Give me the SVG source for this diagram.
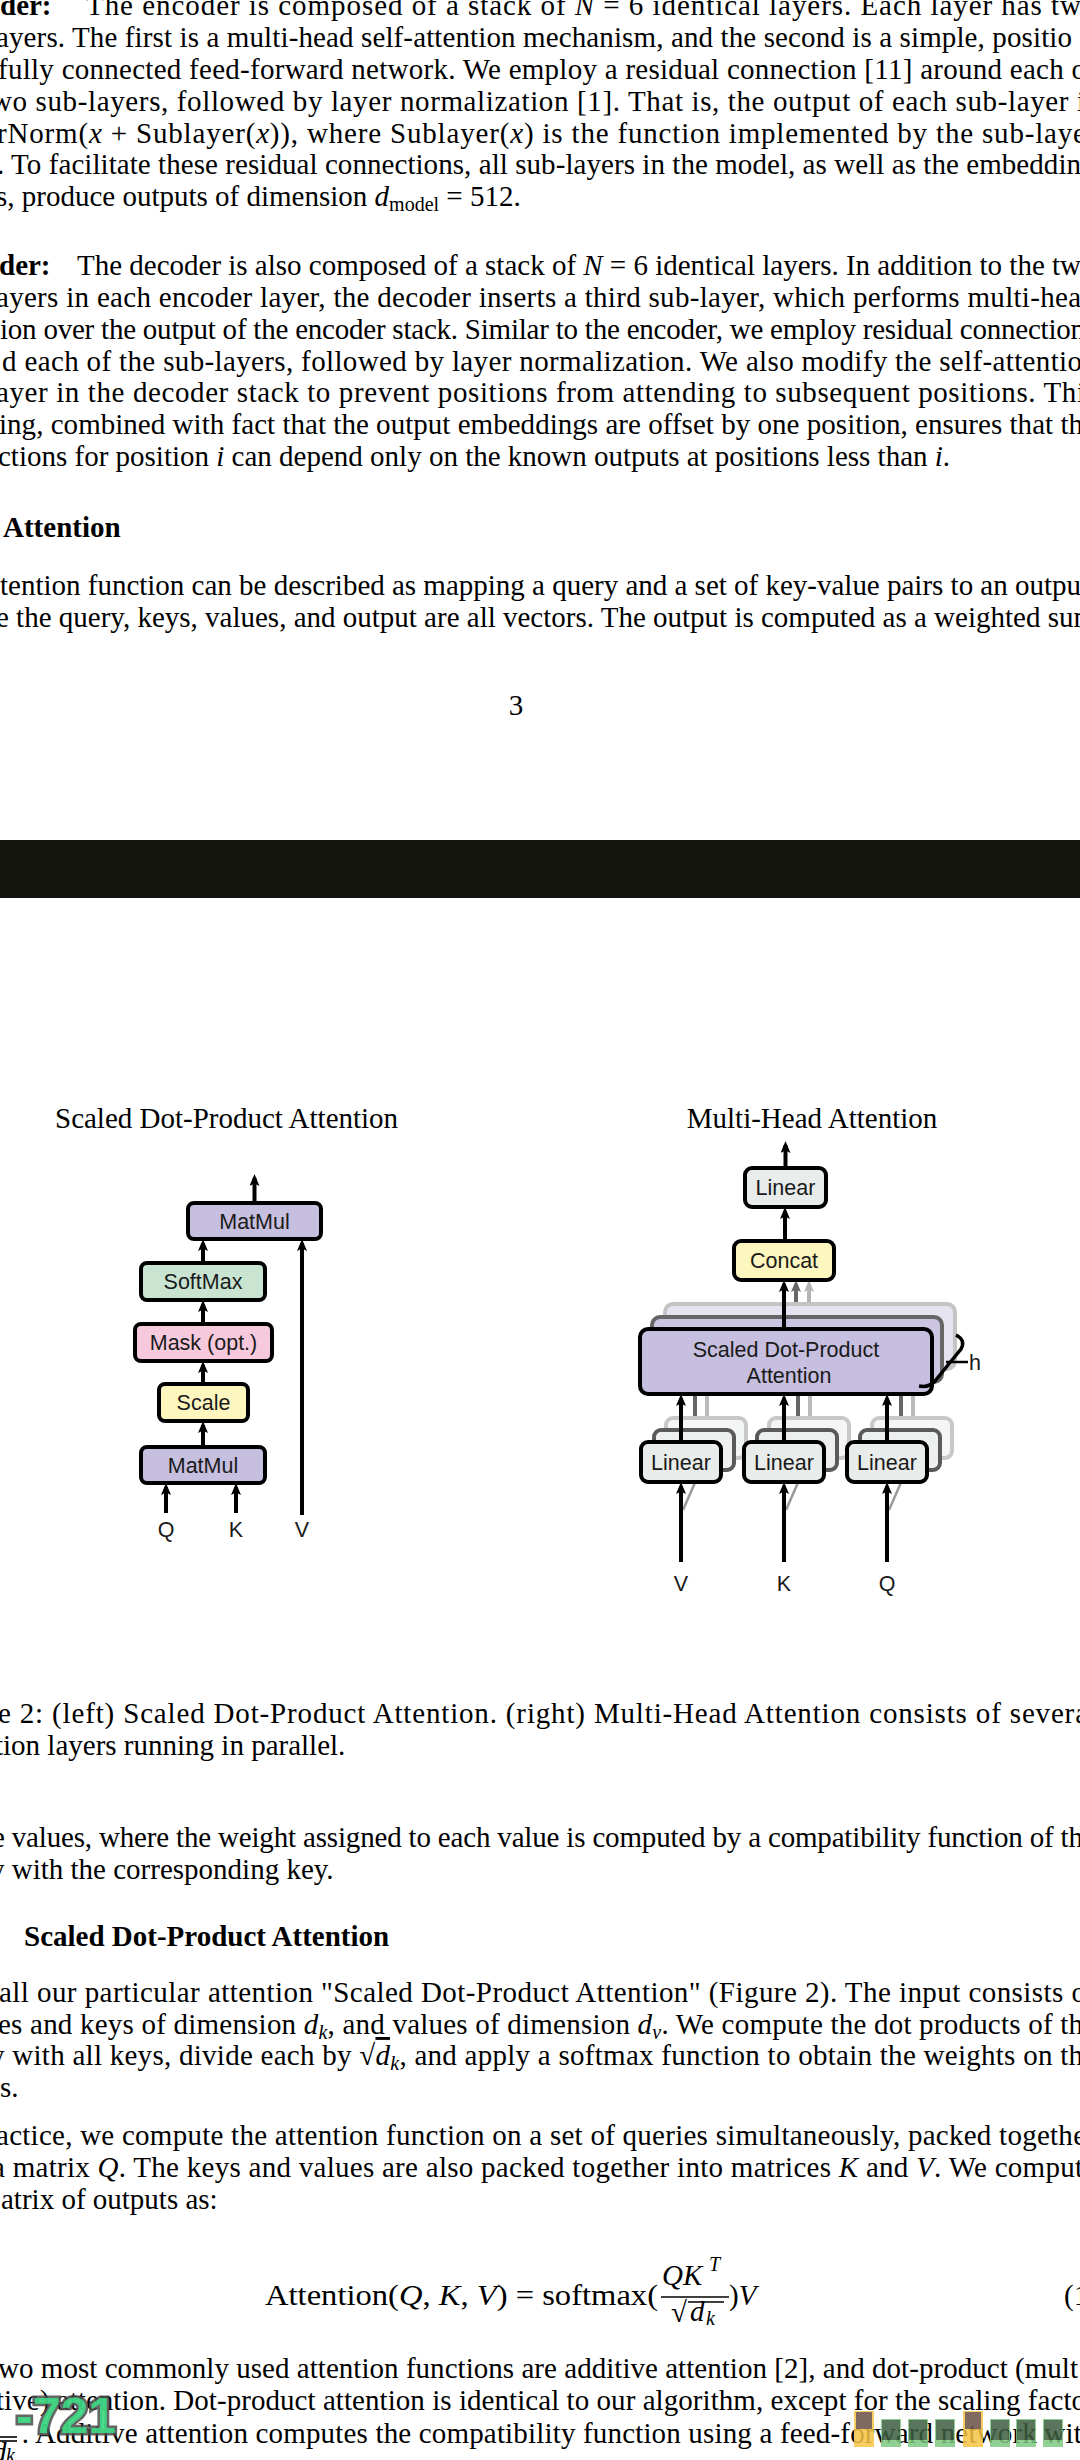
<svg xmlns="http://www.w3.org/2000/svg" width="1080" height="2460" viewBox="0 0 1080 2460">
<style>
.t{font-family:"Liberation Serif","Times New Roman",serif;font-size:29px;fill:#000}
.b{font-weight:bold}
.i{font-style:italic}
.sb{font-size:20px}
.s{font-family:"Liberation Sans",Arial,sans-serif;font-size:21.5px;fill:#1a1a1a;text-anchor:middle}
.bx{stroke:#000;stroke-width:4}
.ar{stroke:#000;stroke-width:4;fill:none;marker-end:url(#ah)}
.ar2{stroke:#666;stroke-width:4;fill:none;marker-end:url(#ah2)}
.ar3{stroke:#b4b4b4;stroke-width:4;fill:none;marker-end:url(#ah3)}
.pur{fill:#c6bfdf}
.lin{fill:#e8ecea}
.yel{fill:#fdf7bf}
</style>
<defs>
<marker id="ah" viewBox="0 0 12 10" markerWidth="12" markerHeight="10" refX="8" refY="5" orient="auto" markerUnits="userSpaceOnUse"><path d="M0,0 L12,5 L0,10 L2.5,5 Z" fill="#000"/></marker>
<marker id="ah2" viewBox="0 0 12 10" markerWidth="12" markerHeight="10" refX="8" refY="5" orient="auto" markerUnits="userSpaceOnUse"><path d="M0,0 L12,5 L0,10 L2.5,5 Z" fill="#666"/></marker>
<marker id="ah3" viewBox="0 0 12 10" markerWidth="12" markerHeight="10" refX="8" refY="5" orient="auto" markerUnits="userSpaceOnUse"><path d="M0,0 L12,5 L0,10 L2.5,5 Z" fill="#b4b4b4"/></marker>
</defs>
<rect x="0" y="0" width="1080" height="2460" fill="#fff"/>

<g id="text-top">
<text class="t b" x="0" y="15">der:</text>
<text class="t" x="86" y="15" textLength="995" lengthAdjust="spacing">The encoder is composed of a stack of <tspan class="i">N</tspan> = 6 identical layers. Each layer has tw</text>
<text class="t" x="-4" y="47" textLength="1076" lengthAdjust="spacing">ayers. The first is a multi-head self-attention mechanism, and the second is a simple, positio</text>
<text class="t" x="-2" y="79" textLength="1088" lengthAdjust="spacing">fully connected feed-forward network. We employ a residual connection [11] around each o</text>
<text class="t" x="-9" y="110.5" textLength="1094" lengthAdjust="spacing">wo sub-layers, followed by layer normalization [1]. That is, the output of each sub-layer i</text>
<text class="t" x="-3" y="142.5" textLength="1089" lengthAdjust="spacing">rNorm(<tspan class="i">x</tspan> + Sublayer(<tspan class="i">x</tspan>)), where Sublayer(<tspan class="i">x</tspan>) is the function implemented by the sub-laye</text>
<text class="t" x="-3" y="174" textLength="1084" lengthAdjust="spacing">. To facilitate these residual connections, all sub-layers in the model, as well as the embeddin</text>
<text class="t" x="-4" y="206">s, produce outputs of dimension <tspan class="i">d</tspan><tspan class="sb" dy="5">model</tspan><tspan dy="-5"> = 512.</tspan></text>

<text class="t b" x="-1" y="275">der:</text>
<text class="t" x="77" y="275" textLength="1004" lengthAdjust="spacing">The decoder is also composed of a stack of <tspan class="i">N</tspan> = 6 identical layers. In addition to the tw</text>
<text class="t" x="-4" y="307" textLength="1085" lengthAdjust="spacing">ayers in each encoder layer, the decoder inserts a third sub-layer, which performs multi-hea</text>
<text class="t" x="0" y="338.5" textLength="1085" lengthAdjust="spacing">ion over the output of the encoder stack. Similar to the encoder, we employ residual connection</text>
<text class="t" x="2" y="370.5" textLength="1080" lengthAdjust="spacing">d each of the sub-layers, followed by layer normalization. We also modify the self-attentio</text>
<text class="t" x="-4" y="402" textLength="1089" lengthAdjust="spacing">ayer in the decoder stack to prevent positions from attending to subsequent positions. Thi</text>
<text class="t" x="-1" y="434" textLength="1084" lengthAdjust="spacing">ing, combined with fact that the output embeddings are offset by one position, ensures that th</text>
<text class="t" x="-2" y="466">ctions for position <tspan class="i">i</tspan> can depend only on the known outputs at positions less than <tspan class="i">i</tspan>.</text>

<text class="t b" x="3" y="537">Attention</text>
<text class="t" x="0" y="595" textLength="1081" lengthAdjust="spacing">tention function can be described as mapping a query and a set of key-value pairs to an outpu</text>
<text class="t" x="-4" y="627" textLength="1100" lengthAdjust="spacing">e the query, keys, values, and output are all vectors. The output is computed as a weighted sum</text>
<text class="t" x="516" y="715" text-anchor="middle">3</text>
</g>

<rect id="band" x="0" y="840" width="1080" height="58" fill="#14140e"/>

<g id="fig-left">
<text class="t" x="55" y="1128">Scaled Dot-Product Attention</text>
<g id="l-matmul-top"><rect class="bx pur" x="188" y="1203" width="133" height="36" rx="6"/><text class="s" x="254.5" y="1228.7">MatMul</text></g>
<g id="l-softmax"><rect class="bx" fill="#c9e5d2" x="141" y="1263" width="124" height="37" rx="6"/><text class="s" x="203" y="1289">SoftMax</text></g>
<g id="l-mask"><rect class="bx" fill="#f7c9dd" x="135" y="1324" width="137" height="37" rx="6"/><text class="s" x="203.5" y="1350">Mask (opt.)</text></g>
<g id="l-scale"><rect class="bx yel" x="159" y="1384" width="89" height="37" rx="6"/><text class="s" x="203.5" y="1410">Scale</text></g>
<g id="l-matmul-bot"><rect class="bx pur" x="141" y="1447" width="124" height="36" rx="6"/><text class="s" x="203" y="1472.7">MatMul</text></g>
<g id="l-labels">
<text class="s" x="166" y="1537" font-size="22">Q</text>
<text class="s" x="236" y="1537" font-size="22">K</text>
<text class="s" x="302" y="1537" font-size="22">V</text>
</g>
</g>

<g id="connectors-left">
<line class="ar" x1="254.5" y1="1203" x2="254.5" y2="1178"/>
<line class="ar" x1="203" y1="1263" x2="203" y2="1243"/>
<line class="ar" x1="203" y1="1324" x2="203" y2="1304"/>
<line class="ar" x1="203" y1="1384" x2="203" y2="1365"/>
<line class="ar" x1="203" y1="1447" x2="203" y2="1425"/>
<line class="ar" x1="166" y1="1513" x2="166" y2="1487"/>
<line class="ar" x1="236" y1="1513" x2="236" y2="1487"/>
<line class="ar" x1="302" y1="1515" x2="302" y2="1243"/>
</g>

<g id="fig-right">
<text class="t" x="812" y="1127.5" text-anchor="middle">Multi-Head Attention</text>

<g id="shadows">
<line x1="809" y1="1304" x2="809" y2="1284" class="ar3"/>
<line x1="796" y1="1317" x2="796" y2="1284" class="ar2"/>
<rect x="665" y="1304" width="290" height="65" rx="8" fill="#e6e3f1" stroke="#c4c4c4" stroke-width="4"/>
<rect x="652" y="1317" width="290" height="65" rx="8" fill="#cbc5e2" stroke="#666" stroke-width="4"/>
<g stroke="#bbb" stroke-width="4">
<line x1="707" y1="1418" x2="707" y2="1369"/><line x1="810" y1="1418" x2="810" y2="1369"/><line x1="913" y1="1418" x2="913" y2="1369"/>
</g>
<g stroke="#666" stroke-width="4">
<line x1="695" y1="1430" x2="695" y2="1382"/><line x1="798" y1="1430" x2="798" y2="1382"/><line x1="901" y1="1430" x2="901" y2="1382"/>
</g>
<g fill="#f4f6f5" stroke="#c8c8c8" stroke-width="4">
<rect x="666" y="1418" width="80" height="40" rx="7"/><rect x="769" y="1418" width="80" height="40" rx="7"/><rect x="872" y="1418" width="80" height="40" rx="7"/>
</g>
<g fill="#edf0ee" stroke="#5a5a5a" stroke-width="4">
<rect x="654" y="1430" width="80" height="40" rx="7"/><rect x="757" y="1430" width="80" height="40" rx="7"/><rect x="860" y="1430" width="80" height="40" rx="7"/>
</g>
<g stroke="#999" stroke-width="2.5">
<line x1="683" y1="1510" x2="697" y2="1478"/><line x1="786" y1="1510" x2="800" y2="1478"/><line x1="889" y1="1510" x2="903" y2="1478"/>
</g>
</g>

<g id="r-linear-top"><rect class="bx lin" x="745" y="1168" width="81" height="39" rx="7"/><text class="s" x="785.5" y="1195">Linear</text></g>
<g id="r-concat"><rect class="bx yel" x="734" y="1241" width="100" height="39" rx="7"/><text class="s" x="784" y="1268">Concat</text></g>
<g id="r-sdpa"><rect class="bx pur" x="640" y="1329" width="292" height="65" rx="8"/><text class="s" x="786" y="1357">Scaled Dot-Product</text><text class="s" x="789" y="1383">Attention</text></g>
<g id="r-linear-v"><rect class="bx lin" x="641" y="1442" width="80" height="40" rx="7"/><text class="s" x="681" y="1469.5">Linear</text></g>
<g id="r-linear-k"><rect class="bx lin" x="744" y="1442" width="80" height="40" rx="7"/><text class="s" x="784" y="1469.5">Linear</text></g>
<g id="r-linear-q"><rect class="bx lin" x="847" y="1442" width="80" height="40" rx="7"/><text class="s" x="887" y="1469.5">Linear</text></g>
<g id="r-h">
<path d="M956,1335 Q966,1340 961,1349 L935,1381 Q929,1388 919,1386" fill="none" stroke="#000" stroke-width="3.5"/>
<line x1="946" y1="1362" x2="968" y2="1362" stroke="#000" stroke-width="2.5"/>
<text class="s" x="975" y="1370" text-anchor="start">h</text>
</g>
<g id="r-labels">
<text class="s" x="681" y="1591" font-size="22">V</text>
<text class="s" x="784" y="1591" font-size="22">K</text>
<text class="s" x="887" y="1591" font-size="22">Q</text>
</g>
</g>

<g id="connectors-right">
<line class="ar" x1="785.5" y1="1168" x2="785.5" y2="1145"/>
<line class="ar" x1="785" y1="1241" x2="785" y2="1211"/>
<line class="ar" x1="784" y1="1329" x2="784" y2="1284"/>
<line class="ar" x1="681" y1="1442" x2="681" y2="1398"/>
<line class="ar" x1="784" y1="1442" x2="784" y2="1398"/>
<line class="ar" x1="887" y1="1442" x2="887" y2="1398"/>
<line class="ar" x1="681" y1="1562" x2="681" y2="1486"/>
<line class="ar" x1="784" y1="1562" x2="784" y2="1486"/>
<line class="ar" x1="887" y1="1562" x2="887" y2="1486"/>
</g>

<g id="text-bottom">
<text class="t" x="-2" y="1722.7" textLength="1090" lengthAdjust="spacing">e 2: (left) Scaled Dot-Product Attention. (right) Multi-Head Attention consists of severa</text>
<text class="t" x="-5" y="1755">tion layers running in parallel.</text>
<text class="t" x="-8" y="1847" textLength="1091" lengthAdjust="spacing">e values, where the weight assigned to each value is computed by a compatibility function of th</text>
<text class="t" x="-10" y="1879">y with the corresponding key.</text>
<text class="t b" x="24" y="1946">Scaled Dot-Product Attention</text>
<text class="t" x="-1" y="2001.5" textLength="1087" lengthAdjust="spacing">all our particular attention "Scaled Dot-Product Attention" (Figure 2). The input consists o</text>
<text class="t" x="-2" y="2033.5" textLength="1085" lengthAdjust="spacing">es and keys of dimension <tspan class="i">d</tspan><tspan class="sb i" dy="5">k</tspan><tspan dy="-5">, and values of dimension </tspan><tspan class="i">d</tspan><tspan class="sb i" dy="5">v</tspan><tspan dy="-5">. We compute the dot products of th</tspan></text>
<text class="t" x="-10" y="2065" textLength="1093" lengthAdjust="spacing">y with all keys, divide each by √<tspan class="i" text-decoration="overline">d</tspan><tspan class="sb i" dy="5">k</tspan><tspan dy="-5">, and apply a softmax function to obtain the weights on th</tspan></text>
<text class="t" x="0" y="2097">s.</text>
<text class="t" x="-4" y="2145" textLength="1090" lengthAdjust="spacing">actice, we compute the attention function on a set of queries simultaneously, packed togethe</text>
<text class="t" x="-8" y="2177" textLength="1091" lengthAdjust="spacing">a matrix <tspan class="i">Q</tspan>. The keys and values are also packed together into matrices <tspan class="i">K</tspan> and <tspan class="i">V</tspan>. We comput</text>
<text class="t" x="1" y="2208.5">atrix of outputs as:</text>

<g id="equation">
<text class="t" x="265" y="2305" textLength="393" lengthAdjust="spacingAndGlyphs">Attention(<tspan class="i">Q</tspan>, <tspan class="i">K</tspan>, <tspan class="i">V</tspan>) = softmax(</text>
<text class="t i" x="662" y="2285">QK</text>
<text class="t i sb" x="709" y="2271">T</text>
<line x1="661" y1="2297" x2="729" y2="2297" stroke="#000" stroke-width="1.6"/>
<text class="t" x="671" y="2322">√</text>
<line x1="688" y1="2302" x2="724" y2="2302" stroke="#000" stroke-width="1.6"/>
<text class="t i" x="690" y="2321">d</text>
<text class="t i sb" x="706" y="2325">k</text>
<text class="t" x="729" y="2305">)<tspan class="i">V</tspan></text>
<text class="t" x="1064" y="2305">(1</text>
</g>

<text class="t" x="-2" y="2378" textLength="1080" lengthAdjust="spacing">wo most commonly used attention functions are additive attention [2], and dot-product (mult</text>
<text class="t" x="-4" y="2410" textLength="1090" lengthAdjust="spacing">tive) attention. Dot-product attention is identical to our algorithm, except for the scaling facto</text>
<line x1="0" y1="2437" x2="17" y2="2437" stroke="#000" stroke-width="1.6"/>
<line x1="0" y1="2441" x2="17" y2="2441" stroke="#000" stroke-width="1.6"/>
<text class="t i" x="-8" y="2462" font-size="24">d</text>
<text class="t i sb" x="6" y="2462" font-size="16">k</text>
<text class="t" x="21.7" y="2443" textLength="1060" lengthAdjust="spacing">. Additive attention computes the compatibility function using a feed-forward network wit</text>
</g>

<g id="overlay-721">
<text x="16" y="2433" font-family="Liberation Sans,Arial,sans-serif" font-weight="bold" font-size="50" fill="#3ddc84" fill-opacity="0.9" stroke="#4a4a4a" stroke-width="5" stroke-opacity="0.85" paint-order="stroke">-721</text>
</g>

<g id="overlay-bars" opacity="0.85">
<rect x="854" y="2411" width="20" height="36" fill="#f6c445"/><rect x="856" y="2412" width="16" height="17" fill="#6b4f42"/>
<rect x="963" y="2411" width="20" height="36" fill="#f6c445"/><rect x="965" y="2412" width="16" height="17" fill="#6b4f42"/>
<g fill="#7dc87f">
<rect x="881" y="2419" width="20" height="28"/><rect x="908" y="2419" width="20" height="28"/><rect x="935" y="2419" width="20" height="28"/>
<rect x="990" y="2419" width="20" height="28"/><rect x="1016" y="2419" width="20" height="28"/><rect x="1043" y="2419" width="20" height="28"/>
</g>
<g fill="#3d5e3f">
<rect x="882" y="2420" width="18" height="20"/><rect x="909" y="2420" width="18" height="20"/><rect x="936" y="2420" width="18" height="20"/>
<rect x="991" y="2420" width="18" height="20"/><rect x="1017" y="2420" width="18" height="20"/><rect x="1044" y="2420" width="18" height="20"/>
</g>
</g>
</svg>
